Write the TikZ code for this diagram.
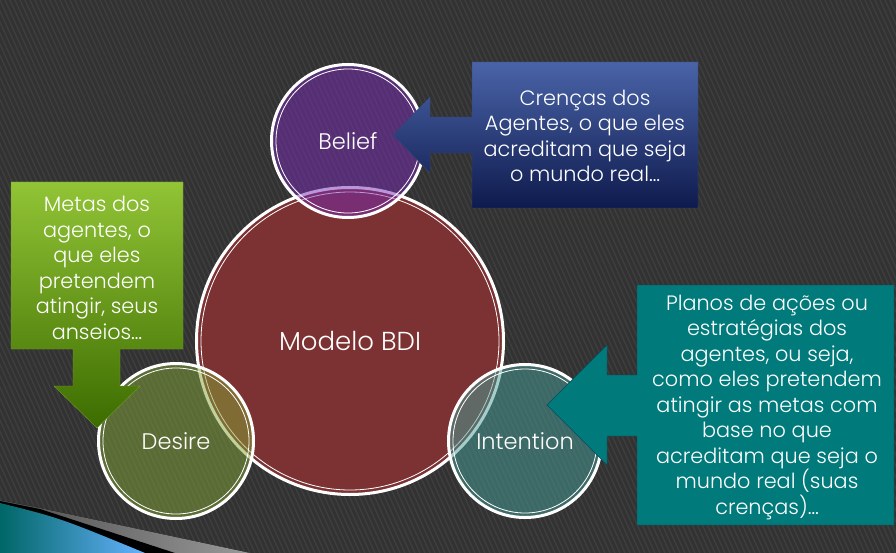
\documentclass[tikz,border=0pt]{standalone}
\usepackage{fontspec}
\setmainfont{Poppins Light}
\definecolor{bgdark}{RGB}{50,50,50}
\definecolor{bgstripe}{RGB}{62,62,62}
\definecolor{bdired}{RGB}{124,50,50}
\definecolor{beliefc}{RGB}{120,44,180}
\definecolor{desirec}{RGB}{132,164,56}
\definecolor{intentc}{RGB}{70,160,152}
\definecolor{bluetop}{RGB}{74,100,168}
\definecolor{bluebot}{RGB}{14,26,77}
\definecolor{greentop}{RGB}{146,196,54}
\definecolor{greenbot}{RGB}{60,108,0}
\definecolor{tealbox}{RGB}{0,122,122}
\begin{document}
\begin{tikzpicture}[x=1pt,y=-1pt,
  ring/.style={circle,draw=white,line width=3pt,text=white,text opacity=1,
    font=\fontsize{22.5}{26}\selectfont},
  calltext/.style={text=white,align=center,
    font=\fontsize{20.8}{25.5}\selectfont}]
  \useasboundingbox (0,0) rectangle (896,553);
  \fill[bgdark] (0,0) rectangle (896,553);
  \begin{scope}
    \clip (0,0) rectangle (896,553);
    \foreach \i in {-300,-295,...,900}
      \draw[bgstripe,line width=1.4pt] (\i,0) -- (\i+250,553);
    \fill[left color=gray!60!black,right color=gray!80] (0,500) -- (40,508) -- (250,553) -- (0,553) -- cycle;
    \fill[black] (0,501) -- (40,509) -- (175,553) -- (0,553) -- cycle;
    \shade[left color=cyan!40!black,right color=cyan!50!blue!60] (0,503) .. controls (60,518) .. (145,553) -- (0,553) -- cycle;
  \end{scope}
  \node[ring,fill=bdired,minimum size=307pt,font=\fontsize{26}{30}\selectfont] (bdi) at (350,341) {Modelo BDI};
  \draw[white,line width=0.8pt] (bdi.center) circle (149pt);
  \node[ring,fill=beliefc,fill opacity=0.5,minimum size=153pt] (belief) at (348,141) {Belief};
  \draw[white,line width=0.8pt] (belief.center) circle (72pt);
  \node[ring,fill=desirec,fill opacity=0.5,minimum size=155pt] (desire) at (176,441) {Desire};
  \draw[white,line width=0.8pt] (desire.center) circle (73pt);
  \node[ring,fill=intentc,fill opacity=0.5,minimum size=153pt] (intention) at (525,441) {Intention};
  \draw[white,line width=0.8pt] (intention.center) circle (72pt);
  \path[draw=bluetop!70!black,top color=bluetop,bottom color=bluebot]
    (472,62) -- (698,62) -- (698,208) -- (472,208) -- (472,153) -- (430,153) -- (430,173)
    -- (393,135) -- (430,97) -- (430,117) -- (472,117) -- cycle;
  \path[draw=greentop!80!black,top color=greentop,bottom color=greenbot]
    (11,182) -- (183,182) -- (183,349) -- (120,349) -- (120,386) -- (140,386)
    -- (97,428) -- (54,386) -- (73,386) -- (73,349) -- (11,349) -- cycle;
  \path[draw=tealbox!50!bluebot,fill=tealbox]
    (637,285) -- (894,285) -- (894,525) -- (637,525) -- (637,436) -- (607,436) -- (607,465)
    -- (547,405) -- (607,345) -- (607,375) -- (637,375) -- cycle;
  \node[calltext] (crencas) at (585,136) {Crenças dos\\Agentes, o que eles\\acreditam que seja\\o mundo real…};
  \node[calltext] (metas) at (97,268) {Metas dos\\agentes, o\\que eles\\pretendem\\atingir, seus\\anseios…};
  \node[calltext] (planos) at (767,407) {Planos de ações ou\\estratégias dos\\agentes, ou seja,\\como eles pretendem\\atingir as metas com\\base no que\\acreditam que seja o\\mundo real (suas\\crenças)…};
\end{tikzpicture}
\end{document}
